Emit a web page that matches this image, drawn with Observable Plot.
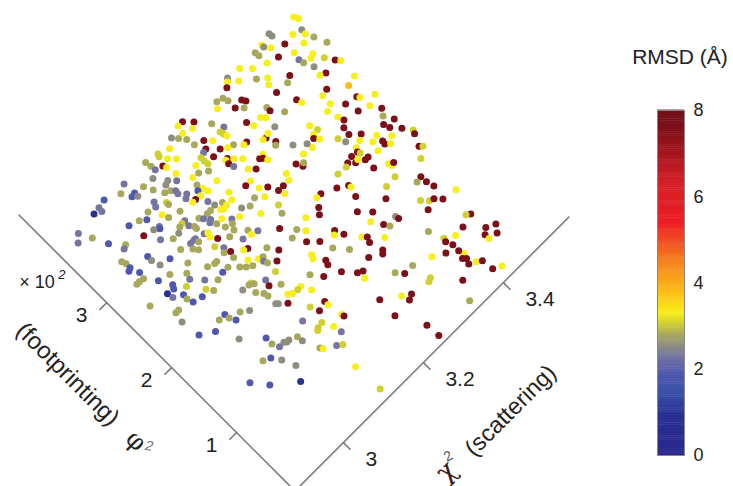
<!DOCTYPE html>
<html>
<head>
<meta charset="utf-8">
<script src="https://cdn.jsdelivr.net/npm/d3@7"></script>
<script src="https://cdn.jsdelivr.net/npm/@observablehq/plot@0.6"></script>
<style>
html,body{margin:0;padding:0;background:#fff}
#wrap{position:relative;width:733px;height:486px;overflow:hidden;font-family:"Liberation Sans",Arial,sans-serif}
#wrap svg{position:absolute;top:0;background:transparent;overflow:hidden}
#cbtitle{position:absolute;left:610px;width:140px;top:45px;text-align:center;font-size:21px;color:#222}
</style>
</head>
<body>
<div id="wrap"><div id="cbtitle">RMSD (Å)</div></div>
<script>
// RMSD bands
const [d,b,s,g,o,l,y,a,r]=[0.9,1.9,2.3,2.55,2.8,3.05,3.3,3.8,7.6];

// chi^2 (scattering), in thousandths
const chi2=[
3470,3474,3418,3419,3447,3464,3463,3470,3480,3450,
3425,3395,3395,3403,3377,3378,3401,3426,3448,3440,
3457,3468,3474,3423,3425,3433,3379,3338,3354,3440,
3430,3392,3472,3311,3306,3321,3346,3361,3354,3380,
3453,3298,3421,3354,3475,3408,3449,3452,3280,3283,
3268,3301,3305,3370,3373,3426,3407,3454,3260,3283,
3294,3323,3323,3433,3466,3340,3394,3458,3303,3309,
3400,3468,3404,3200,3189,3214,3204,3234,3245,3234,
3236,3238,3279,3284,3166,3174,3183,3186,3203,3214,
3255,3248,3235,3213,3224,3186,3195,3188,3150,3129,
3127,3135,3146,3195,3210,3206,3218,3229,3250,3178,
3178,3179,3205,3208,3103,3105,3106,3120,3123,3162,
3127,3156,3171,3233,3223,3092,3143,3108,3119,3100,
3049,3070,3169,3139,3211,3199,3142,3145,3213,3078,
3099,3089,3033,3051,3043,3051,3105,3104,3115,3108,
3133,3130,3170,3195,3004,3119,3112,3164,3132,3064,
3060,3079,3079,3136,3149,3151,3166,3179,2988,2987,
2974,3044,3085,3138,3143,3124,3116,3058,3063,3100,
3105,3113,3108,3128,3140,3153,3022,3033,3079,3072,
3065,3078,3084,3084,3115,3122,3135,3003,3040,3038,
3129,3029,3146,3158,3087,3056,3093,3090,3145,2930,
2918,2942,3009,3025,3042,3098,3115,3129,3070,3066,
3058,3070,3084,2955,2975,2968,3038,3054,3060,3094,
3088,3098,3123,3116,2988,2988,3013,3094,3123,3109,
2949,2952,2952,2993,3030,3068,3063,3050,3075,3090,
3098,3108,2946,2958,2993,3016,3062,2971,2955,2946,
2940,3012,3030,3047,2984,2999,2980,3020,3028,2966,
2985,2968,2984,3006,2988,2929,2960,2953,3012,3013,
3019,3034,2998,2949,2979,2954,2999,3129,3168,3183,
3211,3230,3239,3232,3277,3288,3315,3308,3106,3103,
3120,3084,3079,3087,3065,3078,3087,3089,3142,3134,
3123,3116,3151,3256,3271,3261,3224,3089,3092,3105,
3153,3153,3128,3048,3135,3158,3159,3223,3101,3123,
3112,3108,3133,3136,3251,3253,3034,3075,3076,3060,
3051,3055,3034,3040,3089,3092,3113,3122,3015,3002,
3026,3037,3110,2958,2980,3023,3113,3445,3438,3419,
3447,3464,3437,3454,3437,3387,3379,3384,3380,3392,
3401,3404,3419,3352,3335,3309,3354,3359,3348,3343,
3350,3330,3394,3392,3408,3373,3398,3426,3413,3448,
3452,3466,3478,3475,3444,3426,3425,3433,3408,3465,
3470,3452,3309,3328,3379,3292,3287,3284,3292,3278,
3311,3385,3381,3383,3368,3388,3381,3355,3365,3372,
3348,3381,3405,3407,3413,3289,3295,3300,3260,3255,
3259,3265,3260,3329,3397,3429,3418,3430,3434,3457,
3225,3246,3234,3238,3310,3328,3329,3374,3283,3273,
3209,3323,3358,3399,3410,3418,3429,3216,3210,3263,
3255,3306,3325,3397,3234,3310,3348,3349,3323,3329,
3183,3188,3208,3218,3254,3248,3261,3370,3192,3280,
3287,3308,3381,3379,3399,3205,3222,3283,3384,3148,
3160,3230,3249,3290,3285,3384,3365,3195,3192,3263,
3343,3132,3144,3127,3130,3206,3203,3308];

// phi^2 (footprinting), raw units (axis is x 10^2)
const phi2=[
376,371,382,378,363,360,354,345,331,348,
362,379,376,370,378,373,357,348,333,331,
321,311,306,339,333,322,361,378,368,308,
311,334,284,380,377,369,357,349,343,330,
281,373,295,331,254,293,266,263,368,362,
370,352,348,310,304,269,281,249,364,351,
344,327,322,254,238,310,277,231,324,320,
265,220,258,381,381,372,368,357,345,344,
340,336,331,323,377,371,364,372,350,343,
316,316,324,331,326,354,342,341,370,375,
372,364,357,330,318,318,313,306,293,339,
334,329,313,307,378,371,365,362,358,337,
346,329,323,288,294,360,330,347,340,345,
378,361,309,321,283,283,314,308,271,351,
337,340,373,363,362,358,333,329,322,319,
316,310,291,267,381,311,311,283,300,341,
336,331,328,292,288,283,269,264,379,374,
378,338,314,284,282,291,291,325,318,294,
290,284,282,276,268,264,338,333,303,303,
302,296,291,288,276,267,264,342,318,316,
258,320,247,239,278,298,276,271,241,375,
368,361,323,307,298,264,256,244,281,281,
281,276,260,344,330,328,284,275,270,252,
248,244,233,235,304,298,285,237,217,224,
320,315,309,288,268,247,247,250,234,225,
220,216,307,298,273,261,234,277,290,291,
291,254,242,232,263,251,259,234,227,260,
247,253,241,231,234,264,239,239,200,194,
187,190,200,227,194,204,170,194,165,153,
143,130,127,120,101,93,70,68,195,188,
180,204,204,201,205,193,186,181,163,163,
164,167,152,78,72,69,92,169,167,160,
133,128,140,184,130,110,107,68,135,119,
118,116,107,97,36,19,150,127,120,131,
133,131,141,133,101,98,90,86,131,135,
121,106,59,128,111,90,23,88,91,84,
66,61,61,53,55,63,60,57,51,47,
43,29,24,43,22,306,280,271,270,267,
262,261,252,243,234,248,230,221,219,224,
217,207,197,193,209,212,208,204,208,180,
177,169,278,268,240,294,291,304,306,305,
263,227,223,220,224,211,211,222,216,217,
220,198,190,186,187,261,254,256,294,291,
286,261,254,221,175,155,154,147,138,118,
265,254,254,247,211,204,201,174,219,219,
260,190,165,137,130,128,121,243,234,210,
204,177,165,124,212,159,144,140,147,141,
250,224,210,202,180,177,170,107,207,154,
150,136,90,86,83,193,183,144,78,219,
208,168,154,128,125,69,77,179,175,133,
85,215,201,211,207,164,159,93];

// RMSD (angstrom) of each model
const rmsd=[
y,y,g,g,y,g,y,o,o,y,
r,y,g,y,o,o,r,y,y,y,
l,r,y,s,o,g,y,y,y,r,
y,r,y,g,y,y,o,y,y,o,
a,r,r,r,y,y,r,y,o,o,
o,r,r,r,y,r,y,y,y,r,
o,o,r,r,r,o,y,o,y,y,
y,r,r,r,y,r,y,o,s,l,
l,y,r,y,g,o,o,y,r,y,
r,y,o,r,y,o,r,s,y,l,
l,y,y,r,r,y,y,y,r,l,
l,l,r,s,o,o,s,r,y,y,
y,o,o,r,y,g,y,g,s,g,
s,o,y,o,y,r,y,y,y,o,
o,o,o,b,b,g,s,s,s,s,
b,y,y,o,b,r,y,y,s,s,
s,l,o,g,o,y,g,o,s,s,
d,o,o,y,y,o,o,y,o,o,
s,s,s,y,s,y,o,b,s,l,
o,s,o,o,o,o,o,b,s,b,
o,g,o,s,s,g,y,y,y,s,
s,o,r,s,o,r,o,s,s,s,
s,o,l,b,o,s,o,o,o,s,
o,r,r,y,b,g,b,o,y,y,
o,o,b,g,o,o,o,o,o,o,
o,o,b,b,o,o,b,b,o,o,
o,s,s,o,b,l,b,l,o,d,
b,s,o,b,b,o,o,o,b,o,
b,o,o,g,b,b,g,l,o,r,
r,r,r,y,o,r,l,l,s,r,
o,l,o,o,g,o,o,o,y,l,
y,y,y,y,r,r,r,g,g,r,
r,y,l,g,r,y,r,r,s,l,
l,l,y,s,r,r,b,o,g,g,
g,g,o,s,o,y,s,l,b,o,
g,g,y,b,b,d,l,r,l,r,
r,r,r,r,y,y,r,r,r,y,
r,r,y,r,o,g,y,l,y,r,
y,y,r,r,r,l,y,y,y,r,
r,r,l,r,y,r,r,y,y,r,
l,l,g,g,g,r,o,r,y,y,
y,y,r,l,r,r,r,r,r,y,
l,r,y,y,r,r,r,o,y,r,
y,y,y,l,l,r,o,r,r,y,
r,r,r,y,r,r,y,l,r,y,
y,r,r,l,l,r,r,l,o,r,
r,r,r,r,y,y,g,r,r,o,
y,r,o,y,r,y,r,o,o,y,
r,y,l,r,y,r,r,r,r,o,
r,o,o,r,r,r,r,y,y,r,
y,o,r,s,o,r,r,o];

const chi2Ticks=[3000,3200,3400];
const chi2TickLabels=["3","3.2","3.4"];
const phi2Ticks=[100,200,300];
const phi2TickLabels=["1","2","3"];
const rmsdTicks=[0,2,4,6,8];

// colour ramp of the colour bar
const rampStops=[0,0.9,1.5,1.9,2.3,2.55,2.8,3.05,3.3,3.8,4.5,5.4,6.3,7.6,8];
const rampColors=["#28288e","#2a2f94","#3a52a8","#5058ae","#7575a0","#8e8e80","#a8a85c","#cfcf30","#f7ef1a","#fdba15","#f5821f","#ed1c24","#d51f26","#7d0f18","#701018"];

// the tilted view: chi2 runs up-right, phi2 runs up-left
const chi0=2879, phi0=10;
const U=c=>(c-chi0)/1.25, V=p=>(p-phi0)/0.77;
const viewX=(c,p)=>294.5+(U(c)-V(p))/2;
const viewY=(c,p)=>490.5-(U(c)+V(p))/2;

const points=chi2.map((c,i)=>({chi:c,phi:phi2[i],rmsd:rmsd[i]}));
const X=q=>viewX(q.chi,q.phi), Y=q=>viewY(q.chi,q.phi);
const colorOpt={type:"linear",domain:rampStops,range:rampColors,clamp:true};

const chiAxisEnd=3564, phiAxisEnd=435, chiTickOut=-1, phiTickOut=2861;
const font='"Liberation Sans",Arial,sans-serif';

const axisPts=[{chi:phiTickOut+18,phi:phiAxisEnd},{chi:chi0,phi:phi0},{chi:chiAxisEnd,phi:phi0}];
const chiTickData=chi2Ticks.map((c,i)=>({chi:c,phi:phi0,lab:chi2TickLabels[i]}));
const phiTickData=phi2Ticks.map((p,i)=>({chi:chi0,phi:p,lab:phi2TickLabels[i]}));

const main=Plot.plot({
  width:733,height:486,margin:0,
  x:{domain:[0,733],range:[0,733],axis:null},
  y:{domain:[0,486],range:[0,486],axis:null},
  color:colorOpt,
  style:{fontFamily:font,background:"transparent"},
  marks:[
    Plot.line(axisPts,{x:X,y:Y,stroke:"#777",strokeWidth:1.5}),
    Plot.link(chiTickData,{x1:X,y1:Y,x2:q=>viewX(q.chi,chiTickOut),y2:q=>viewY(q.chi,chiTickOut),stroke:"#777",strokeWidth:1.5}),
    Plot.link(phiTickData,{x1:X,y1:Y,x2:q=>viewX(phiTickOut,q.phi),y2:q=>viewY(phiTickOut,q.phi),stroke:"#777",strokeWidth:1.5}),
    Plot.dot(points,{x:X,y:Y,r:3.5,fill:"rmsd",stroke:null}),
    Plot.text(chiTickData,{x:X,y:Y,text:"lab",dx:22,dy:17,textAnchor:"start",fontSize:21,fill:"#222"}),
    Plot.text(phiTickData,{x:X,y:Y,text:"lab",dx:-25,dy:13,fontSize:21,fill:"#222"}),
    Plot.text(["(footprinting)"],{x:()=>viewX(2741,275),y:()=>viewY(2741,275),text:t=>t,rotate:45,fontSize:24,fill:"#222"}),
    Plot.text(["(scattering)"],{x:()=>viewX(3249,-94),y:()=>viewY(3249,-94),text:t=>t,rotate:-45,fontSize:23.5,fill:"#222"}),
    Plot.text(["φ"],{x:()=>viewX(2743,171),y:()=>viewY(2743,171),text:t=>t,rotate:45,fontSize:25,fontFamily:"DejaVu Serif",fill:"#222"}),
    Plot.text(["2"],{x:()=>viewX(2753,157),y:()=>viewY(2753,157),text:t=>t,rotate:10,fontSize:14,fontStyle:"italic",fill:"#777"}),
    Plot.text(["χ"],{x:()=>viewX(3093,-91),y:()=>viewY(3093,-91),text:t=>t,rotate:-45,fontSize:27,fontFamily:"DejaVu Serif",fill:"#3a1a1a"}),
    Plot.text(["2"],{x:()=>viewX(3114,-81),y:()=>viewY(3114,-81),text:t=>t,rotate:-30,fontSize:14,fill:"#555"}),
    Plot.text(["× 10"],{x:()=>viewX(2817,369),y:()=>viewY(2817,369),text:t=>t,fontSize:18,fill:"#222"}),
    Plot.text(["2"],{x:()=>viewX(2858,356),y:()=>viewY(2858,356),text:t=>t,fontSize:13,fontStyle:"italic",fill:"#222"})
  ]
});
main.style.left="0px";
document.getElementById("wrap").appendChild(main);

// colour bar
const barLevels=d3.range(0,8,0.05);
const bar=Plot.plot({
  width:76,height:486,
  marginLeft:0,marginRight:49,marginTop:110,marginBottom:31,
  x:{domain:[0,1],axis:null},
  y:{domain:[0,8],axis:null},
  color:colorOpt,
  style:{fontFamily:font,background:"transparent"},
  marks:[
    Plot.rect(barLevels,{x1:0,x2:1,y1:v=>v,y2:v=>v+0.06,fill:v=>v+0.025}),
    Plot.frame({stroke:"#888",strokeWidth:1}),
    Plot.axisY(rmsdTicks,{anchor:"right",tickSize:0,tickPadding:9,fontSize:18,fill:"#222",label:null})
  ]
});
bar.style.left="657px";
document.getElementById("wrap").appendChild(bar);
</script>
</body>
</html>
